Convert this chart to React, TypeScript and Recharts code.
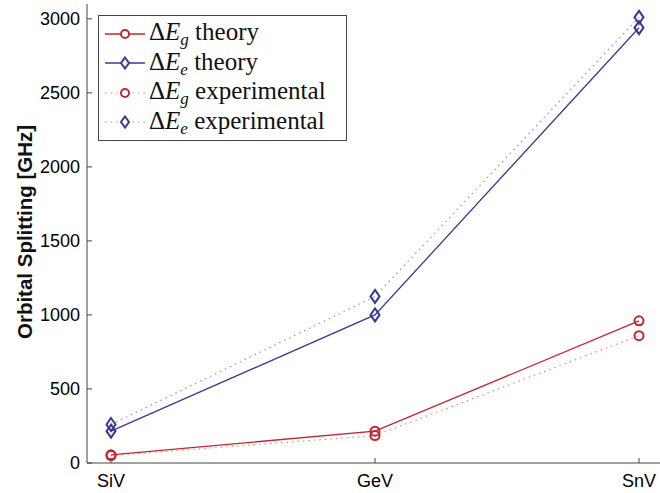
import React from "react";
import { LineChart, Line, XAxis, YAxis, Legend } from "recharts";

const sites = ["SiV", "GeV", "SnV"];
const gTheory = [55, 215, 960];
const eTheory = [215, 1000, 2940];
const gExp = [50, 185, 860];
const eExp = [260, 1125, 3010];
const yTicks = [0, 500, 1000, 1500, 2000, 2500, 3000];

const RED = "#c4262e";
const BLUE = "#3a3a94";

const data = sites.map((site, i) => ({
  site,
  gTheory: gTheory[i],
  eTheory: eTheory[i],
  gExp: gExp[i],
  eExp: eExp[i],
}));

const circleDot = (color: string) => (props: any) => {
  const { cx, cy, index } = props;
  if (cx == null || cy == null) return <g key={index} />;
  return (
    <circle key={index} cx={cx} cy={cy} r={4.5} fill="none" stroke={color} strokeWidth={2} />
  );
};

const diamondDot = (color: string) => (props: any) => {
  const { cx, cy, index } = props;
  if (cx == null || cy == null) return <g key={index} />;
  return (
    <path
      key={index}
      d={`M${cx},${cy - 6.5}L${cx + 4.5},${cy}L${cx},${cy + 6.5}L${cx - 4.5},${cy}Z`}
      fill="none"
      stroke={color}
      strokeWidth={2}
    />
  );
};

const legendItems = [
  { sub: "g", text: "theory", color: RED, shape: "circle", dashed: false },
  { sub: "e", text: "theory", color: BLUE, shape: "diamond", dashed: false },
  { sub: "g", text: "experimental", color: RED, shape: "circle", dashed: true },
  { sub: "e", text: "experimental", color: BLUE, shape: "diamond", dashed: true },
];

function LegendBox() {
  return (
    <div
      style={{
        border: "1px solid #444",
        background: "#fff",
        width: 247,
        height: 121,
        boxSizing: "content-box",
        paddingTop: 3,
      }}
    >
      {legendItems.map((it, i) => (
        <div key={i} style={{ display: "flex", alignItems: "center", height: 29.5 }}>
          <svg width={50} height={20} style={{ flex: "none" }}>
            <line
              x1={6}
              x2={46}
              y1={10}
              y2={10}
              stroke={it.color}
              strokeWidth={it.dashed ? 1.2 : 1.3}
              strokeDasharray={it.dashed ? "1.5 4" : undefined}
              strokeOpacity={it.dashed ? 0.55 : 1}
            />
            {it.shape === "circle" ? (
              <circle cx={26} cy={10} r={4} fill="#fff" stroke={it.color} strokeWidth={2} />
            ) : (
              <path d="M26,4.5L30,10L26,15.5L22,10Z" fill="#fff" stroke={it.color} strokeWidth={2} />
            )}
          </svg>
          <span
            style={{
              fontFamily: "'Liberation Serif', 'DejaVu Serif', serif",
              fontSize: 25,
              color: "#111",
              whiteSpace: "nowrap",
              lineHeight: 1,
            }}
          >
            Δ<i>E</i>
            <sub style={{ fontSize: 17, fontStyle: "italic", verticalAlign: "-5px" }}>{it.sub}</sub>{" "}
            {it.text}
          </span>
        </div>
      ))}
    </div>
  );
}

const yLabel = () => (
  <text
    x={24}
    y={232}
    transform="rotate(-90, 24, 232)"
    textAnchor="middle"
    dominantBaseline="central"
    fontFamily="'Liberation Sans', Arial, sans-serif"
    fontWeight="bold"
    fontSize={20.5}
    fill="#111"
  >
    Orbital Splitting [GHz]
  </text>
);

const tickStyle = {
  fill: "#000",
  fontSize: 18,
  fontFamily: "'Liberation Sans', Arial, sans-serif",
};

export default function App() {
  return (
    <div
      style={{
        position: "absolute",
        left: 0,
        top: 0,
        width: 660,
        height: 493,
        overflow: "hidden",
        background: "#fff",
      }}
    >
      <LineChart width={663} height={493} data={data} margin={{ top: 4, right: 0, bottom: 0, left: 0 }}>
        <XAxis
          dataKey="site"
          padding={{ left: 24, right: 24 }}
          height={30}
          tickSize={-5}
          tickMargin={16}
          tick={tickStyle}
          stroke="#444"
        />
        <XAxis
          xAxisId="top"
          orientation="top"
          dataKey="site"
          padding={{ left: 24, right: 24 }}
          height={0}
          tickSize={-5}
          tick={false}
          stroke="#444"
        />
        <YAxis
          width={87}
          domain={[0, 3100]}
          ticks={yTicks}
          tickSize={-5}
          tickMargin={12}
          tick={tickStyle}
          stroke="#444"
          label={yLabel}
        />
        <Legend
          layout="horizontal"
          verticalAlign="middle"
          align="center"
          content={() => <LegendBox />}
          wrapperStyle={{ position: "absolute", top: 15, left: 98, width: "auto" }}
        />
        <Line
          dataKey="gExp"
          stroke={RED}
          strokeOpacity={0.55}
          strokeWidth={1.2}
          strokeDasharray="1.5 4"
          dot={circleDot(RED)}
          isAnimationActive={false}
        />
        <Line
          dataKey="eExp"
          stroke={BLUE}
          strokeOpacity={0.55}
          strokeWidth={1.2}
          strokeDasharray="1.5 4"
          dot={diamondDot(BLUE)}
          isAnimationActive={false}
        />
        <Line
          dataKey="gTheory"
          stroke={RED}
          strokeWidth={1.3}
          dot={circleDot(RED)}
          isAnimationActive={false}
        />
        <Line
          dataKey="eTheory"
          stroke={BLUE}
          strokeWidth={1.3}
          dot={diamondDot(BLUE)}
          isAnimationActive={false}
        />
      </LineChart>
    </div>
  );
}
